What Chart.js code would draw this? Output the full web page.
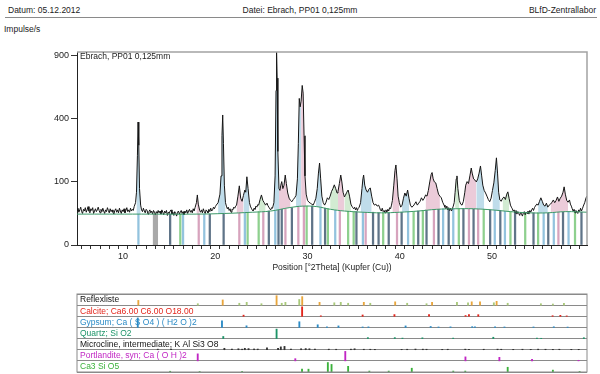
<!DOCTYPE html>
<html>
<head>
<meta charset="utf-8">
<script src="https://cdn.jsdelivr.net/npm/chart.js@4.4.0/dist/chart.umd.min.js"></script>
<style>
body { margin:0; background:#fff; width:600px; height:374px; overflow:hidden; position:relative; font-family:"Liberation Sans", Arial, sans-serif; color:#222; }
.hdr { position:absolute; top:5px; font-size:8.5px; }
#datum { left:8px; }
#datei { left:0; width:600px; text-align:center; }
#labor { right:4px; }
#rule { position:absolute; left:5px; top:17px; width:592px; border-top:1px solid #8a8a8a; }
#ylab { position:absolute; left:4px; top:24px; font-size:8.5px; }
#main { position:absolute; left:0; top:0; }
#refl { position:absolute; left:0; top:285px; }
</style>
</head>
<body>
<div class="hdr" id="datum">Datum: 05.12.2012</div>
<div class="hdr" id="datei">Datei: Ebrach, PP01 0,125mm</div>
<div class="hdr" id="labor">BLfD-Zentrallabor</div>
<div id="rule"></div>
<div id="ylab">Impulse/s</div>
<canvas id="main" width="600" height="285"></canvas>
<canvas id="refl" width="600" height="89"></canvas>
<script>
var FONT = '"Liberation Sans", Arial, sans-serif';

//----------------------------Data
var yTicks = [0, 100, 400, 900];
var xLabels = [10, 20, 30, 40, 50];
var sampleName = "Ebrach, PP01 0,125mm";

// measured scan [2theta, counts/s]
var scan = [
  [5.0,30],[5.1,34],[5.2,27],[5.3,31],[5.4,36],[5.5,28],[5.6,25],[5.7,32],[5.8,29],[5.9,35],
  [6.0,27],[6.1,31],[6.2,37],[6.3,29],[6.4,26],[6.5,33],[6.6,30],[6.7,35],[6.8,25],[6.9,29],
  [7.0,33],[7.1,28],[7.2,31],[7.3,36],[7.4,30],[7.5,26],[7.6,32],[7.7,28],[7.8,34],[7.9,29],
  [8.0,25],[8.1,31],[8.2,28],[8.3,35],[8.4,30],[8.5,26],[8.6,33],[8.7,28],[8.8,31],[8.9,27],
  [9.0,24],[9.1,30],[9.2,33],[9.3,27],[9.4,31],[9.5,26],[9.6,34],[9.7,29],[9.8,25],[9.9,31],
  [10.0,28],[10.1,33],[10.2,26],[10.3,30],[10.4,35],[10.5,28],[10.6,31],[10.7,27],[10.8,34],[10.9,29],
  [11.0,32],[11.1,30],[11.2,37],[11.35,45],[11.45,70],[11.55,200],[11.62,380],[11.7,250],[11.78,80],[11.9,40],
  [12.0,31],[12.1,28],[12.2,34],[12.3,29],[12.4,26],[12.5,32],[12.6,30],[12.7,24],[12.8,28],[12.9,31],
  [13.0,26],[13.1,29],[13.2,24],[13.3,30],[13.4,27],[13.5,23],[13.6,28],[13.7,25],[13.8,30],[13.9,26],
  [14.0,29],[14.1,24],[14.2,31],[14.3,27],[14.4,23],[14.5,29],[14.6,26],[14.7,30],[14.8,22],[14.9,27],
  [15.0,25],[15.1,29],[15.2,31],[15.3,24],[15.4,27],[15.5,22],[15.6,28],[15.7,25],[15.8,21],[15.9,27],
  [16.0,29],[16.1,24],[16.2,27],[16.3,30],[16.4,25],[16.5,28],[16.6,23],[16.7,29],[16.8,26],[16.9,31],
  [17.0,25],[17.1,29],[17.2,32],[17.3,27],[17.4,30],[17.5,26],[17.6,33],[17.7,29],[17.8,35],
  [17.95,45],[18.05,63],[18.15,42],[18.3,30],[18.4,27],[18.5,31],[18.6,26],[18.7,33],[18.8,28],[18.9,25],
  [19.0,31],[19.1,29],[19.2,26],[19.3,32],[19.4,28],[19.5,34],[19.6,29],[19.7,31],[19.8,36],[19.9,33],
  [20.0,37],[20.1,40],[20.3,45],[20.5,65],[20.62,120],[20.72,300],[20.8,425],[20.88,260],[20.98,90],
  [21.1,45],[21.2,38],[21.3,33],[21.4,36],[21.5,30],[21.6,33],[21.7,27],[21.8,32],[21.9,31],[22.0,36],
  [22.1,34],[22.2,38],[22.3,40],[22.45,60],[22.6,88],[22.75,55],
  [22.9,48],[23.05,62],[23.2,76],[23.3,70],[23.42,117],[23.55,80],[23.7,45],[23.8,38],[23.9,34],[24.0,31],
  [24.1,29],[24.2,34],[24.3,32],[24.4,38],[24.5,36],[24.6,41],[24.7,40],[24.85,52],[25.0,63],[25.15,50],
  [25.3,45],[25.45,40],[25.6,44],[25.7,39],[25.8,36],[25.9,33],[26.0,31],[26.1,35],
  [26.2,34],[26.35,45],[26.48,120],[26.58,600],[26.64,935],[26.7,700],[26.78,220],[26.9,80],[27.0,75],[27.1,90],
  [27.2,101],[27.32,80],[27.45,90],[27.58,123],[27.7,95],[27.85,68],[28.0,55],[28.15,50],[28.3,47],[28.45,52],
  [28.6,56],[28.75,62],[28.9,110],[29.0,260],[29.1,540],[29.2,480],[29.3,520],[29.42,640],[29.52,580],[29.62,300],
  [29.72,120],[29.85,65],[30.0,50],[30.15,46],[30.3,44],[30.45,42],[30.6,40],[30.75,46],[30.9,55],[31.05,80],
  [31.18,130],[31.3,169],[31.42,110],[31.55,60],[31.7,45],[31.85,40],[32.0,46],[32.15,56],[32.3,52],[32.45,60],
  [32.6,72],[32.75,80],[32.9,91],[33.05,80],[33.2,68],[33.3,72],[33.45,95],[33.6,123],[33.72,100],[33.85,70],
  [34.0,58],[34.1,62],[34.25,70],[34.4,76],[34.55,60],[34.7,42],[34.8,38],[34.9,35],[35.0,33],[35.1,36],
  [35.2,31],[35.3,35],[35.4,30],[35.5,34],[35.6,36],[35.75,45],[35.9,80],[36.0,110],[36.08,123],[36.2,90],
  [36.35,76],[36.5,70],[36.65,78],[36.8,82],[36.95,60],[37.1,45],[37.25,40],[37.4,42],[37.55,38],[37.7,40],
  [37.8,36],[37.9,31],[38.0,29],[38.1,34],[38.2,28],[38.3,30],[38.4,26],[38.5,31],[38.6,27],[38.7,32],
  [38.8,29],[38.9,35],[39.0,33],[39.1,40],[39.2,50],[39.35,90],[39.48,140],[39.58,161],
  [39.7,110],[39.82,60],[39.95,45],[40.1,36],[40.25,40],[40.4,55],[40.55,68],[40.7,60],[40.85,76],[41.0,55],
  [41.15,40],[41.3,36],[41.45,38],[41.6,42],[41.75,47],[41.9,40],[42.05,44],[42.2,48],[42.35,56],[42.5,50],
  [42.65,55],[42.8,63],[42.95,60],[43.1,75],[43.25,100],[43.4,125],[43.5,132],[43.62,110],[43.75,100],[43.9,97],
  [44.05,80],[44.2,65],[44.35,60],[44.5,56],[44.65,46],[44.8,40],[44.9,36],[45.0,33],[45.1,38],[45.2,31],
  [45.3,35],[45.4,30],[45.5,34],[45.6,29],[45.7,33],[45.8,38],[45.9,45],[46.0,70],[46.12,110],[46.2,120],
  [46.3,80],[46.45,50],[46.6,42],[46.75,40],
  [46.9,48],[47.05,70],[47.15,90],[47.3,101],[47.45,95],[47.6,120],[47.75,149],[47.85,130],[48.0,110],[48.15,106],
  [48.3,100],[48.45,110],[48.6,130],[48.75,157],[48.88,120],[49.0,90],[49.15,75],[49.3,68],[49.45,60],[49.6,52],
  [49.75,47],[49.9,55],[50.05,75],[50.2,97],[50.35,140],[50.48,191],[50.6,130],[50.72,70],[50.85,51],[51.0,48],
  [51.15,55],[51.3,58],[51.45,52],[51.6,65],[51.72,71],[51.85,55],[52.0,40],[52.1,36],[52.2,33],[52.3,29],
  [52.4,31],[52.5,26],[52.6,30],[52.7,24],[52.8,28],[52.9,25],[53.0,22],[53.1,27],[53.2,24],[53.3,21],
  [53.4,26],[53.5,28],[53.6,23],[53.7,27],[53.8,25],[53.9,29],[54.0,24],[54.1,30],[54.2,27],[54.3,31],
  [54.4,34],[54.5,30],[54.6,35],[54.7,38],[54.85,42],[55.0,40],[55.15,48],[55.3,56],[55.45,48],
  [55.6,40],[55.75,38],[55.9,44],[56.05,36],[56.2,40],[56.35,42],[56.5,46],[56.65,51],[56.8,45],[56.95,50],
  [57.1,58],[57.25,48],[57.4,55],[57.55,60],[57.7,70],[57.82,85],[57.95,65],[58.1,50],[58.25,46],[58.4,51],
  [58.5,42],[58.6,38],[58.7,33],[58.8,29],[58.9,32],[59.0,26],[59.1,30],[59.2,27],[59.3,25],[59.4,31],
  [59.5,28],[59.6,34],[59.7,29],[59.8,33],[59.9,38],[60.05,45],[60.2,56],[60.3,60]
];

// fitted background
var backgroundCurve = [
  [5,24],[12,24],[18,24],[21,25],[24,27],[26,29],[28,35],[29.5,38],[31,37],[32.5,32],[34,29],[36,27],
  [38,26],[40,27],[42,29],[44,32],[46,33],[48,33],[50,31],[52,28],[54,26],[56,26],[58,28],[60.3,27]
];

// excluded range
var excluded = [[13.2,0],[13.2,24],[13.8,24],[13.8,0]];

// peak profile areas [from, to, colour]
var fillZones = [
  [11.4,11.9,'#bfdcea'],[17.9,18.3,'#ebcbd9'],[20.4,21.1,'#bfdcea'],[22.3,23.0,'#ebcbd9'],
  [23.0,23.7,'#bfdcea'],[24.7,25.4,'#d2ebd2'],[26.4,26.9,'#bfdcea'],[26.9,28.1,'#ebcbd9'],
  [28.8,29.3,'#bfdcea'],[29.3,29.8,'#ebcbd9'],[30.9,31.6,'#bfdcea'],[32.4,33.3,'#d2ebd2'],
  [33.3,34.0,'#ebcbd9'],[34.0,34.7,'#d2ebd2'],[35.8,37.0,'#bfdcea'],[39.2,39.9,'#ebcbd9'],
  [40.3,41.0,'#bfdcea'],[42.8,44.3,'#ebcbd9'],[46.0,46.4,'#d2ebd2'],[47.0,48.3,'#ebcbd9'],
  [48.3,49.2,'#bfdcea'],[50.0,50.8,'#bfdcea'],[51.1,51.9,'#d2ebd2'],[55.0,56.0,'#bfdcea'],
  [56.3,58.2,'#ebcbd9']
];

// peak list sticks [2theta, height]
var stickPink = [[18.2,24],[22.6,26],[25.2,28],[27.6,32],[29.0,37],[29.6,38],[33.5,30],[36.3,27],[39.7,26],[43.7,32],[47.5,33],[48.5,33],[57.2,27]];
var stickBlue = [[11.66,24],[16.5,24],[18.8,24],[23.2,26],[26.5,31],[31.4,36],[33.0,31],[36.0,27],[40.9,28],[44.7,33],[45.8,33],[50.3,31],[51.4,29],[55.6,26],[56.7,26],[58.3,27]];
var stickGreen = [[16.2,24],[23.5,26],[24.7,28],[29.9,38],[32.2,33],[34.4,29],[35.0,28],[38.2,26],[41.5,28],[42.5,30],[46.4,33],[49.1,32],[52.0,28],[53.6,26],[55.0,26],[59.0,27]];
var stickGray = [[15.1,24],[19.4,24],[20.9,25],[25.8,29],[26.85,31],[27.2,32],[28.3,35],[30.5,38],[31.9,34],[35.3,28],[37.1,27],[37.7,26],[38.8,26],[40.2,27],[42.0,29],[42.9,31],[44.2,32],[45.3,33],[46.9,33],[48.0,33],[49.8,31],[50.9,30],[52.5,27],[54.5,26],[56.1,26],[57.7,27],[59.7,27]];

// reference patterns [2theta, relative intensity]
var rowLabels = ["Reflexliste", "Calcite; Ca6.00 C6.00 O18.00", "Gypsum; Ca ( S O4 ) ( H2 O )2", "Quartz; Si O2",
  "Microcline, intermediate; K Al Si3 O8", "Portlandite, syn; Ca ( O H )2", "Ca3 Si O5"];
var rowColors = ["#111111", "#e3261c", "#2b8bc6", "#1d9468", "#111111", "#c126c4", "#3bb23b"];

var reflexOrange = [[11.65,0.5],[20.8,0.55],[26.64,1.0],[29.42,0.9],[31.3,0.3],[36.1,0.3],[39.5,0.35],[43.5,0.3],[47.8,0.35],[48.7,0.35],[50.5,0.4]];
var reflexGreen = [[18.1,0.15],[22.6,0.2],[23.4,0.3],[25.0,0.15],[27.2,0.2],[27.6,0.3],[29.1,0.6],[32.9,0.25],[33.6,0.3],[34.4,0.2],[36.8,0.2],[40.8,0.2],[42.9,0.15],[46.2,0.3],[47.4,0.25],[50.2,0.25],[51.7,0.2],[55.3,0.15],[56.6,0.12],[57.8,0.2]];
var calcite = [[23.06,0.12],[29.41,1.0],[31.44,0.05],[35.97,0.14],[39.42,0.18],[43.17,0.18],[47.13,0.08],[47.5,0.17],[48.51,0.17],[56.57,0.06],[57.41,0.1],[58.1,0.04]];
var gypsum = [[11.59,1.0],[20.72,0.7],[23.38,0.17],[29.11,0.6],[31.1,0.28],[32.1,0.06],[33.35,0.16],[35.97,0.05],[36.6,0.06],[40.63,0.16],[43.35,0.1],[44.2,0.05],[45.5,0.06],[47.85,0.08],[48.15,0.07],[50.33,0.07],[51.35,0.05],[54.5,0.05],[56.7,0.07],[58.2,0.04]];
var quartz = [[20.86,0.22],[26.64,1.0],[36.54,0.1],[39.46,0.1],[40.29,0.05],[42.45,0.08],[45.79,0.05],[50.14,0.14],[54.87,0.05],[55.33,0.03],[59.96,0.09]];
var microcline = [[13.76,0.06],[15.2,0.07],[20.98,0.15],[21.8,0.06],[22.5,0.1],[22.9,0.06],[23.2,0.15],[23.6,0.12],[24.2,0.08],[24.6,0.07],[25.6,0.2],[26.8,0.15],[27.1,0.3],[27.5,0.35],[28.2,0.06],[29.3,0.1],[29.8,0.12],[30.2,0.1],[30.8,0.06],[32.3,0.06],[33.1,0.05],[34.7,0.06],[35.1,0.1],[36.1,0.05],[36.8,0.05],[37.3,0.04],[40.2,0.04],[40.8,0.05],[41.7,0.07],[42.5,0.06],[42.9,0.05],[44.6,0.04],[45.2,0.05],[47.1,0.06],[47.5,0.05],[49.1,0.05],[50.6,0.06],[51.0,0.05],[52.3,0.04],[53.3,0.05],[54.2,0.04],[55.0,0.06],[55.8,0.05],[56.6,0.04],[57.3,0.05],[58.6,0.04],[59.4,0.04]];
var portlandite = [[18.09,0.74],[28.67,0.23],[34.09,1.0],[47.12,0.42],[50.8,0.37],[54.34,0.16],[59.38,0.06]];
var alite = [[15.1,0.08],[18.3,0.05],[22.9,0.06],[29.4,0.3],[30.1,0.3],[32.2,1.0],[32.6,0.8],[34.4,0.6],[36.7,0.1],[38.8,0.1],[41.3,0.4],[45.8,0.1],[47.1,0.1],[51.7,0.5],[56.6,0.2],[59.5,0.06]];

//----------------------------Helpers
function toSqrt(list) {
  return list.map(function (p) { return { x: p[0], y: Math.sqrt(p[1]) }; });
}

function zoneColor(x) {
  for (var i = 0; i < fillZones.length; i++) {
    if (x >= fillZones[i][0] && x <= fillZones[i][1]) return fillZones[i][2];
  }
  return 'rgba(255,255,255,0)';
}

function stickSet(list, color) {
  return { type: 'bar', data: toSqrt(list), backgroundColor: color, barThickness: 1.6, grouped: false, order: 3 };
}

function rowSet(list, row, color) {
  return {
    data: list.map(function (p) { return { x: p[0], y: [row + 1, row + 1 - p[1] * 0.85] }; }),
    backgroundColor: color, barThickness: 1.2, grouped: false
  };
}

var minorTicks = [];
for (var t = 5; t <= 60; t++) minorTicks.push(t);

var framePlugin = {
  id: 'frame',
  afterDraw: function (chart) {
    var ctx = chart.ctx, a = chart.chartArea;
    ctx.save();
    ctx.strokeStyle = '#a2a2a2';
    ctx.lineWidth = 1.5;
    ctx.beginPath();
    ctx.moveTo(a.left, a.top);
    ctx.lineTo(a.right, a.top);
    ctx.lineTo(a.right, a.bottom);
    ctx.stroke();
    ctx.fillStyle = '#222';
    ctx.font = '8.5px ' + FONT;
    ctx.textBaseline = 'middle';
    ctx.fillText(sampleName, a.left + 3, a.top + 5);
    ctx.restore();
  }
};

var tablePlugin = {
  id: 'table',
  afterDraw: function (chart) {
    var ctx = chart.ctx, a = chart.chartArea, y = chart.scales.y;
    ctx.save();
    ctx.strokeStyle = '#8a8a8a';
    ctx.lineWidth = 1;
    ctx.strokeRect(a.left, a.top, a.right - a.left, a.bottom - a.top);
    ctx.font = '8.5px ' + FONT;
    ctx.textBaseline = 'middle';
    rowLabels.forEach(function (txt, i) {
      ctx.fillStyle = rowColors[i];
      ctx.fillText(txt, a.left + 3, y.getPixelForValue(i + 0.5) + 0.5);
    });
    ctx.restore();
  }
};

//----------------------------Main diagram
new Chart(document.getElementById('main'), {
  type: 'line',
  data: {
    datasets: [
      {
        data: toSqrt(scan), borderColor: '#151515', borderWidth: 1, pointRadius: 0, order: 1,
        backgroundColor: 'rgba(255,255,255,0)', fill: { target: 1 },
        segment: { backgroundColor: function (c) { return zoneColor((c.p0.parsed.x + c.p1.parsed.x) / 2); } }
      },
      { data: toSqrt(backgroundCurve), borderColor: '#3c9868', borderWidth: 1, pointRadius: 0, tension: 0.4, fill: false, order: 0 },
      { data: toSqrt(excluded), borderWidth: 0, borderColor: '#a9a9a9', backgroundColor: '#a9a9a9', pointRadius: 0, fill: 'origin', order: 2 },
      stickSet(stickPink, '#d7a3bd'),
      stickSet(stickBlue, '#93c3de'),
      stickSet(stickGreen, '#8ed08e'),
      stickSet(stickGray, '#5f7488')
    ]
  },
  options: {
    responsive: false,
    animation: false,
    layout: { padding: { top: 52, right: 13, left: 0, bottom: 0 } },
    scales: {
      x: {
        type: 'linear', min: 5, max: 60.3, offset: false,
        afterBuildTicks: function (s) { s.ticks = minorTicks.map(function (v) { return { value: v }; }); },
        afterFit: function (s) { s.height = 40; },
        ticks: {
          autoSkip: false, maxRotation: 0, padding: 2, color: '#222', font: { size: 9, family: FONT },
          callback: function (v) { return xLabels.indexOf(v) >= 0 ? String(v) : ''; }
        },
        grid: { drawOnChartArea: false, tickLength: 4, color: '#333' },
        border: { color: '#222', width: 1 },
        title: { display: true, text: 'Position [°2Theta] (Kupfer (Cu))', color: '#222', font: { size: 8.5, family: FONT }, padding: { top: 0, bottom: 12 } }
      },
      y: {
        type: 'linear', min: 0, max: 30.6,
        afterBuildTicks: function (s) { s.ticks = yTicks.map(function (v) { return { value: Math.sqrt(v) }; }); },
        afterFit: function (s) { s.width = 77; },
        ticks: { padding: 2, color: '#222', font: { size: 9, family: FONT }, callback: function (v) { return String(Math.round(v * v)); } },
        grid: { drawOnChartArea: false, tickLength: 6, color: '#333' },
        border: { color: '#222', width: 1 }
      }
    },
    plugins: { legend: { display: false }, tooltip: { enabled: false } }
  },
  plugins: [framePlugin]
});

//----------------------------Reflexliste
new Chart(document.getElementById('refl'), {
  type: 'bar',
  data: {
    datasets: [
      rowSet(reflexOrange, 0, '#e9a63c'),
      rowSet(reflexGreen, 0, '#a9c97a'),
      rowSet(calcite, 1, rowColors[1]),
      rowSet(gypsum, 2, rowColors[2]),
      rowSet(quartz, 3, rowColors[3]),
      rowSet(microcline, 4, '#333333'),
      rowSet(portlandite, 5, rowColors[5]),
      rowSet(alite, 6, rowColors[6])
    ]
  },
  options: {
    responsive: false,
    animation: false,
    layout: { padding: { top: 9, bottom: 2, left: 77, right: 13 } },
    scales: {
      x: { type: 'linear', min: 5, max: 60.3, offset: false, display: false },
      y: {
        min: 0, max: 7, reverse: true,
        ticks: { display: false, stepSize: 1 },
        grid: { drawTicks: false, color: '#8a8a8a' },
        border: { display: false }
      }
    },
    plugins: { legend: { display: false }, tooltip: { enabled: false } }
  },
  plugins: [tablePlugin]
});
</script>
</body>
</html>
